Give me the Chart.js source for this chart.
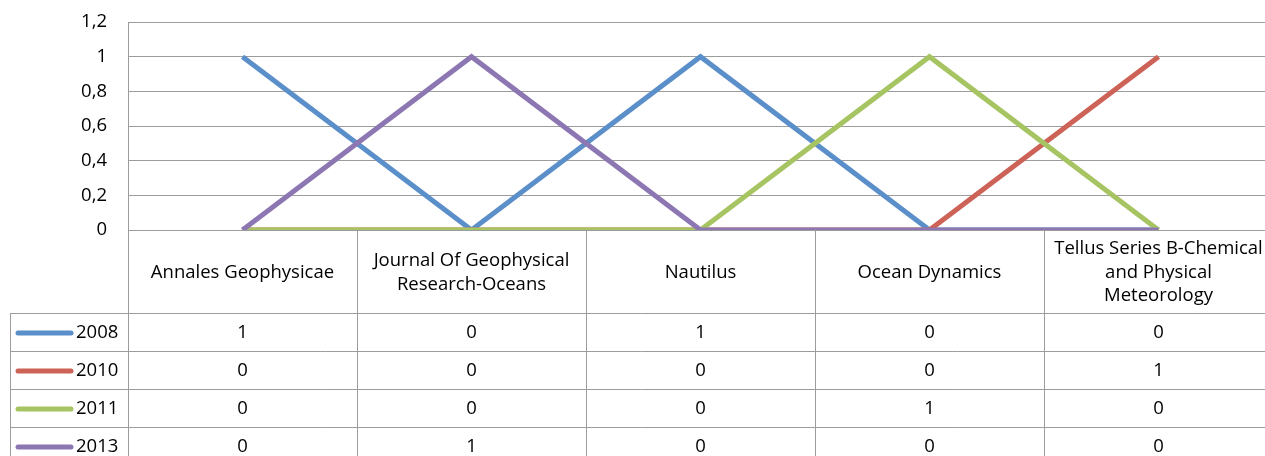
<!doctype html>
<html lang="en">
<head>
<meta charset="utf-8">
<title>Journals by year</title>
<script src="https://cdn.jsdelivr.net/npm/chart.js@4.4.0/dist/chart.umd.min.js"></script>
<style>
html, body { margin: 0; padding: 0; background: #fff; overflow: hidden; }
#wrap { position: relative; width: 1273px; height: 456px; }
</style>
</head>
<body>
<div id="wrap"><canvas id="chart"></canvas></div>
<script>
// categories (header lines of the data table)
const categories = [
    ["Annales Geophysicae"],
    ["Journal Of Geophysical", "Research-Oceans"],
    ["Nautilus"],
    ["Ocean Dynamics"],
    ["Tellus Series B-Chemical", "and Physical", "Meteorology"]
];
const seriesNames = ["2008", "2010", "2011", "2013"];
const v2008 = [1, 0, 1, 0, 0];
const v2010 = [0, 0, 0, 0, 1];
const v2011 = [0, 0, 0, 1, 0];
const v2013 = [0, 1, 0, 0, 0];
const yMin = 0, yMax = 1.2, yStep = 0.2;

const colors = ["#5B8FCA", "#CD6257", "#A7C462", "#8D77B2"];
const allValues = [v2008, v2010, v2011, v2013];

const gridColor = "#9c9c9c";
const fontFam = "'Open Sans', sans-serif";
const fontSize = 18.5;

Chart.defaults.font.family = fontFam;
Chart.defaults.font.size = fontSize;
Chart.defaults.color = "#000";

// draws the data table under the plot (header + one row per series)
const tablePlugin = {
    id: "dataTable",
    afterDraw(chart) {
        const ctx = chart.ctx;
        const xs = chart.scales.x;
        const area = chart.chartArea;
        const n = categories.length;
        const colW = (area.right - area.left) / n;
        const top = area.bottom;
        const headH = 83, rowH = 38, keyLeft = 10;
        const rowsTop = top + headH;
        const bottom = rowsTop + rowH * seriesNames.length;

        ctx.save();
        ctx.strokeStyle = gridColor;
        ctx.lineWidth = 1;
        ctx.beginPath();
        // header verticals + column boundaries
        for (let i = 0; i <= n; i++) {
            const x = Math.round(area.left + i * colW) + 0.5;
            ctx.moveTo(x, top);
            ctx.lineTo(x, bottom);
        }
        // row lines
        for (let r = 0; r <= seriesNames.length; r++) {
            const y = Math.round(rowsTop + r * rowH) + 0.5;
            ctx.moveTo(keyLeft, y);
            ctx.lineTo(area.right, y);
        }
        ctx.moveTo(keyLeft + 0.5, rowsTop);
        ctx.lineTo(keyLeft + 0.5, bottom);
        ctx.stroke();

        ctx.fillStyle = "#000";
        ctx.font = fontSize + "px " + fontFam;
        ctx.textAlign = "center";
        ctx.textBaseline = "middle";
        const lh = 23.5;
        categories.forEach(function(lines, i) {
            const cx = xs.getPixelForValue(i);
            const cy = top + headH / 2 + 1;
            lines.forEach(function(t, j) {
                ctx.fillText(t, cx, cy + (j - (lines.length - 1) / 2) * lh);
            });
        });

        seriesNames.forEach(function(name, r) {
            const cy = rowsTop + r * rowH + rowH / 2 + 1;
            ctx.strokeStyle = colors[r];
            ctx.lineWidth = 5;
            ctx.lineCap = "round";
            ctx.beginPath();
            ctx.moveTo(18, cy);
            ctx.lineTo(71, cy);
            ctx.stroke();
            ctx.textAlign = "left";
            ctx.fillText(name, 76, cy);
            ctx.textAlign = "center";
            allValues[r].forEach(function(v, i) {
                ctx.fillText(String(v), xs.getPixelForValue(i), cy);
            });
        });
        ctx.restore();
    }
};

const dsets = seriesNames.map(function(name, i) {
    return {
        label: name,
        data: allValues[i],
        borderColor: colors[i],
        backgroundColor: colors[i],
        borderWidth: 5,
        pointRadius: 0,
        tension: 0,
        order: seriesNames.length - i
    };
});

new Chart("chart", {
    type: "line",
    data: {
        labels: categories,
        datasets: dsets
    },
    options: {
        responsive: true,
        maintainAspectRatio: false,
        animation: false,
        layout: { padding: { top: 22, right: 0, bottom: 226, left: 0 } },
        plugins: {
            legend: { display: false },
            tooltip: { enabled: false }
        },
        scales: {
            x: {
                display: false,
                offset: true
            },
            y: {
                min: yMin,
                max: yMax,
                afterFit: function(s) {
                    s.width = 128;
                    s.paddingTop = 0;
                    s.paddingBottom = 0;
                },
                ticks: {
                    stepSize: yStep,
                    padding: 21,
                    color: "#000",
                    callback: function(v) {
                        return String(Math.round(v * 10) / 10).replace(".", ",");
                    }
                },
                grid: { color: gridColor, drawTicks: false },
                border: { color: gridColor }
            }
        }
    },
    plugins: [tablePlugin]
});
</script>
</body>
</html>
